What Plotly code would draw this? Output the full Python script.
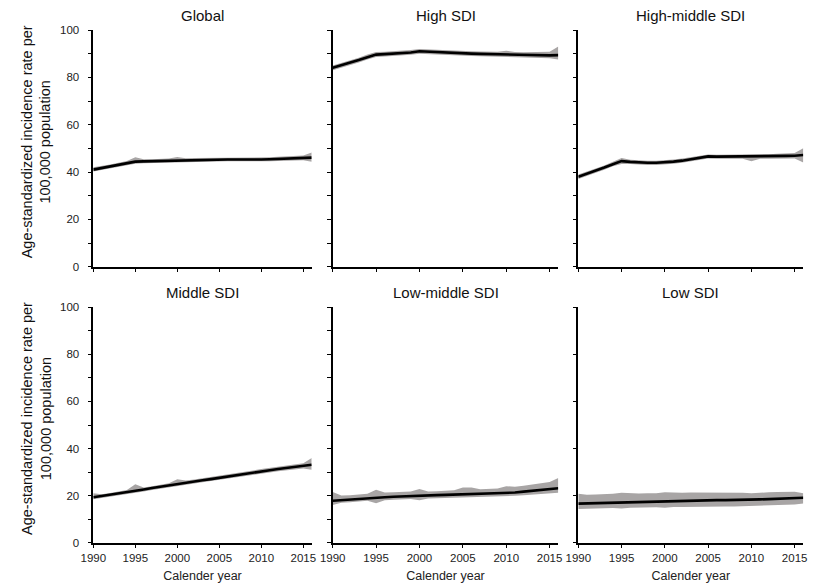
import plotly.graph_objects as go

years = list(range(1990, 2017))
panel_titles = ["Global", "High SDI", "High-middle SDI", "Middle SDI", "Low-middle SDI", "Low SDI"]

global_mean = [41.0, 41.7, 42.4, 43.1, 43.8, 44.4, 44.5, 44.6, 44.7, 44.9, 45.0, 45.0, 45.1, 45.1, 45.2, 45.3, 45.3, 45.3, 45.2, 45.2, 45.3, 45.4, 45.5, 45.6, 45.8, 46.0, 46.1]
global_upper = [42.0, 42.5, 43.2, 43.9, 44.7, 46.2, 45.4, 45.4, 45.5, 45.7, 46.3, 45.8, 45.9, 45.9, 46.0, 46.2, 46.1, 46.1, 46.0, 46.0, 46.2, 46.2, 46.4, 46.5, 46.8, 47.0, 48.2]
global_lower = [40.2, 40.9, 41.6, 42.3, 43.0, 43.5, 43.7, 43.8, 43.9, 44.1, 44.2, 44.2, 44.3, 44.3, 44.4, 44.5, 44.5, 44.5, 44.4, 44.4, 44.5, 44.6, 44.7, 44.8, 44.9, 45.0, 44.3]

high_mean = [84.0, 85.0, 86.1, 87.3, 88.5, 89.6, 89.8, 90.0, 90.2, 90.5, 91.0, 90.8, 90.5, 90.3, 90.2, 90.1, 90.0, 89.9, 89.8, 89.6, 89.5, 89.4, 89.3, 89.3, 89.3, 89.3, 89.4]
high_upper = [85.0, 86.0, 87.1, 88.3, 89.6, 90.7, 90.8, 91.0, 91.2, 91.5, 92.0, 91.8, 91.5, 91.3, 91.2, 91.1, 91.0, 90.9, 90.8, 90.8, 91.2, 90.7, 90.6, 90.6, 90.6, 90.8, 93.0]
high_lower = [83.0, 84.0, 85.1, 86.3, 87.5, 88.6, 88.8, 89.0, 89.2, 89.5, 90.0, 89.8, 89.5, 89.3, 89.2, 89.1, 89.0, 88.9, 88.8, 88.4, 88.3, 88.2, 88.1, 88.1, 88.1, 88.1, 87.5]

highmid_mean = [38.0, 39.2, 40.5, 41.9, 43.3, 44.6, 44.3, 44.0, 43.9, 43.9, 44.0, 44.4, 44.8, 45.3, 46.0, 46.6, 46.5, 46.5, 46.5, 46.5, 46.5, 46.6, 46.6, 46.7, 46.8, 46.9, 47.2]
highmid_upper = [38.9, 40.1, 41.4, 42.8, 44.3, 45.9, 45.2, 44.9, 44.8, 44.8, 44.9, 45.3, 45.7, 46.2, 46.9, 47.4, 47.3, 47.3, 47.3, 47.3, 47.5, 47.5, 47.5, 47.7, 47.9, 48.0, 50.0]
highmid_lower = [37.1, 38.3, 39.6, 41.0, 42.4, 43.4, 43.4, 43.1, 43.0, 43.0, 43.1, 43.5, 43.9, 44.4, 45.1, 45.7, 45.6, 45.6, 45.6, 45.6, 44.5, 45.6, 45.6, 45.7, 45.7, 45.7, 44.0]

middle_mean = [19.3, 19.8, 20.3, 20.9, 21.5, 22.0, 22.6, 23.2, 23.8, 24.4, 25.0, 25.5, 26.0, 26.5, 27.0, 27.5, 28.0, 28.5, 29.1, 29.7, 30.3, 30.8, 31.3, 31.7, 32.1, 32.6, 33.1]
middle_upper = [21.0, 20.6, 21.1, 21.7, 22.4, 24.8, 23.4, 24.0, 24.6, 25.3, 27.0, 26.4, 26.9, 27.4, 27.9, 28.5, 28.9, 29.4, 30.0, 30.7, 31.3, 31.8, 32.3, 32.7, 33.2, 33.8, 36.0]
middle_lower = [18.5, 19.0, 19.5, 20.1, 20.7, 21.2, 21.8, 22.4, 23.0, 23.6, 24.2, 24.7, 25.2, 25.7, 26.2, 26.7, 27.1, 27.6, 28.2, 28.8, 29.0, 29.8, 30.4, 30.8, 31.2, 31.5, 31.0]

lowmid_mean = [17.8, 18.1, 18.3, 18.5, 18.8, 19.1, 19.3, 19.5, 19.7, 19.9, 20.0, 20.1, 20.2, 20.3, 20.4, 20.4, 20.5, 20.6, 20.7, 20.8, 20.9, 21.3, 21.7, 22.1, 22.4, 22.7, 23.1]
lowmid_upper = [21.5, 20.0, 20.2, 20.5, 20.8, 22.5, 21.3, 21.4, 21.5, 21.8, 22.8, 21.8, 21.9, 22.0, 22.3, 23.5, 23.4, 22.7, 22.8, 23.0, 24.0, 23.8, 24.2, 24.8, 25.2, 25.8, 27.5]
lowmid_lower = [16.0, 17.0, 17.2, 17.5, 17.8, 16.8, 18.0, 18.2, 18.4, 18.6, 18.0, 18.8, 18.9, 19.0, 19.1, 19.0, 19.1, 19.2, 19.3, 19.4, 19.5, 19.9, 20.2, 20.5, 20.8, 21.0, 21.2]

low_mean = [16.6, 16.7, 16.8, 16.9, 17.1, 17.3, 17.4, 17.5, 17.6, 17.7, 17.8, 17.9, 17.9, 18.0, 18.0, 18.1, 18.1, 18.1, 18.1, 18.2, 18.2, 18.4, 18.5, 18.6, 18.7, 18.8, 19.1]
low_upper = [20.8, 20.4, 20.5, 20.6, 20.8, 21.2, 20.9, 20.9, 21.0, 21.0, 21.4, 21.2, 21.2, 21.3, 21.3, 21.4, 21.3, 21.3, 21.2, 21.2, 21.0, 21.3, 21.4, 21.5, 21.5, 21.6, 21.0]
low_lower = [14.3, 14.5, 14.5, 14.6, 14.7, 14.5, 14.9, 15.0, 15.1, 15.1, 14.8, 15.2, 15.2, 15.3, 15.3, 15.4, 15.4, 15.4, 15.4, 15.5, 15.5, 15.7, 15.8, 15.9, 16.0, 16.2, 16.6]

means = [global_mean, high_mean, highmid_mean, middle_mean, lowmid_mean, low_mean]
uppers = [global_upper, high_upper, highmid_upper, middle_upper, lowmid_upper, low_upper]
lowers = [global_lower, high_lower, highmid_lower, middle_lower, lowmid_lower, low_lower]

W, H = 813, 587
col_px = [(93.3, 311.7), (332.7, 558.3), (578.3, 803.3)]
row_px = [(30, 266.7), (307.3, 542.7)]

BAND = "#a8a5a5"
FONT = "Arial, Liberation Sans, sans-serif"

fig = go.Figure()
layout = dict(
    template="none",
    width=W, height=H, margin=dict(l=0, r=0, t=0, b=0, pad=0),
    paper_bgcolor="white", plot_bgcolor="white", showlegend=False,
    font=dict(family=FONT, size=11, color="#222"),
)
annotations = []
for i in range(6):
    r, c = divmod(i, 3)
    n = i + 1
    xa = "x" if n == 1 else f"x{n}"
    ya = "y" if n == 1 else f"y{n}"
    fig.add_trace(go.Scatter(x=years, y=lowers[i], mode="lines", line=dict(width=0, color=BAND),
                             xaxis=xa, yaxis=ya, hoverinfo="skip"))
    fig.add_trace(go.Scatter(x=years, y=uppers[i], mode="lines", line=dict(width=0, color=BAND),
                             fill="tonexty", fillcolor=BAND, xaxis=xa, yaxis=ya, hoverinfo="skip"))
    fig.add_trace(go.Scatter(x=years, y=means[i], mode="lines", line=dict(width=2.6, color="black"),
                             xaxis=xa, yaxis=ya))
    x0, x1 = col_px[c]
    y0, y1 = row_px[r]
    xdom = [x0 / W, x1 / W]
    ydom = [1 - y1 / H, 1 - y0 / H]
    xaxis = dict(
        domain=xdom, anchor=ya, range=[1990, 2016], tickvals=[1990, 1995, 2000, 2005, 2010, 2015],
        showline=True, linecolor="black", linewidth=1.5, ticks="outside", ticklen=4, tickcolor="black",
        tickwidth=1, showgrid=False, zeroline=False, showticklabels=(r == 1), automargin=False,
        tickfont=dict(size=11.5, color="#222"),
    )
    if r == 1:
        xaxis["title"] = dict(text="Calender year", font=dict(size=12.5, color="#222"), standoff=8)
    yaxis = dict(
        domain=ydom, anchor=xa, range=[0, 100], tickvals=[0, 20, 40, 60, 80, 100],
        showline=True, linecolor="black", linewidth=1.5, ticks="outside", ticklen=4, tickcolor="black",
        tickwidth=1, showgrid=False, zeroline=False, showticklabels=(c == 0), automargin=False,
        tickfont=dict(size=11.5, color="#222"), ticklabelstandoff=6,
    )
    if i != 5:
        yaxis["minor"] = dict(ticks="outside", dtick=10, ticklen=4, tickcolor="black", tickwidth=1, showgrid=False)
    layout["xaxis" if n == 1 else f"xaxis{n}"] = xaxis
    layout["yaxis" if n == 1 else f"yaxis{n}"] = yaxis
    annotations.append(dict(text=panel_titles[i], x=(xdom[0] + xdom[1]) / 2, y=ydom[1] + 15 / H,
                            xref="paper", yref="paper", showarrow=False, xanchor="center", yanchor="middle",
                            font=dict(size=15, color="#111")))
for r in range(2):
    y0, y1 = row_px[r]
    annotations.append(dict(text="Age-standardized incidence rate per<br>100,000 population",
                            x=36 / W, y=1 - ((y0 + y1) / 2 - 6) / H, xref="paper", yref="paper",
                            showarrow=False, textangle=-90, xanchor="center", yanchor="middle",
                            font=dict(size=14.5, color="#111")))
layout["annotations"] = annotations
fig.update_layout(**layout)
fig.write_html("out.html")
